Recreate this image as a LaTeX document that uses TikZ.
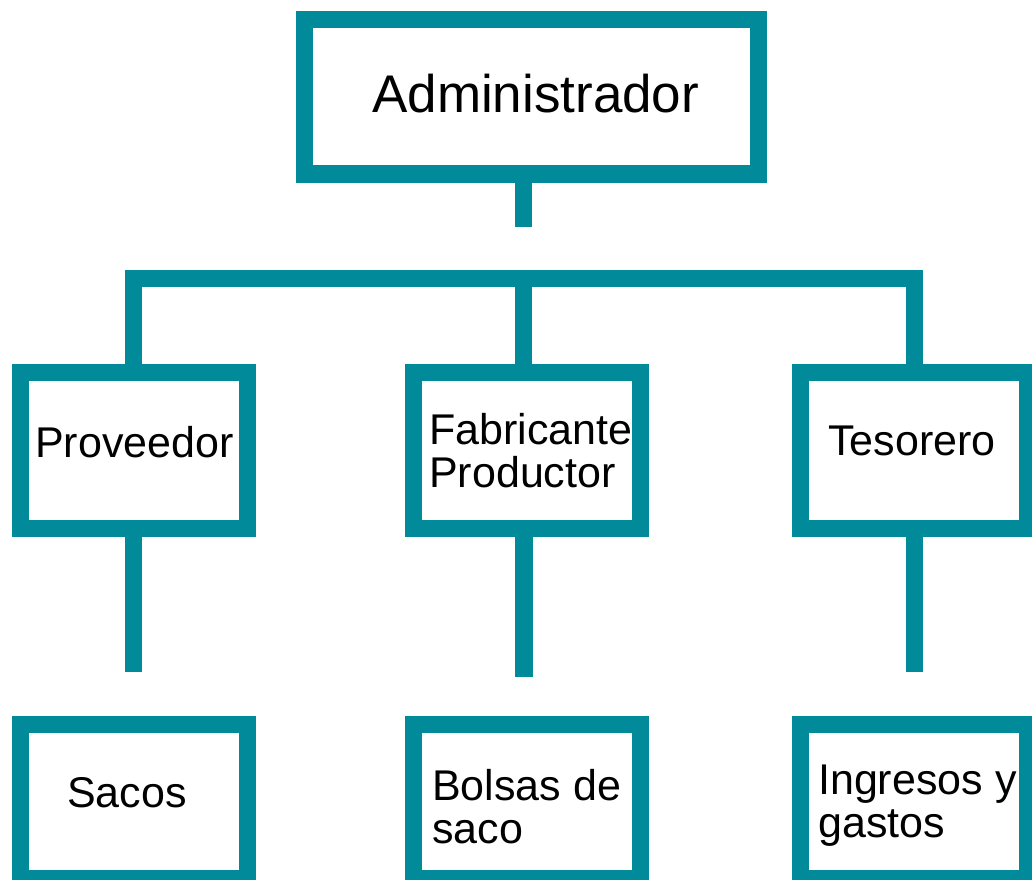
\documentclass[tikz,border=0pt]{standalone}
\usepackage{fontspec}
\setmainfont{Liberation Sans}
\usetikzlibrary{positioning}
\definecolor{tealline}{HTML}{008A9A}

\begin{document}
\begin{tikzpicture}[
    x=1pt, y=-1pt, % picture measured in pixels, top to bottom
    box/.style={draw=tealline, line width=17.5pt, minimum width=227pt, minimum height=156pt, inner sep=0pt},
    link/.style={draw=tealline, line width=17.5pt},
    label_style/.style={anchor=base west, inner sep=0pt, align=left, font=\fontsize{43}{43}\selectfont}
]
    \useasboundingbox (0,0) rectangle (1032,879);
    \clip (0,0) rectangle (1032,879);

    % Column centres and row centres
    \def\colA{134}
    \def\colB{527}
    \def\colC{914}
    \def\rowB{450.5}
    \def\rowC{801.5}

    % Boxes
    \node[box, minimum width=454pt, minimum height=154.5pt] (admin) at (531.5,96.75) {};
    \node[box] (prov) at (\colA,\rowB) {};
    \node[box] (fab)  at (\colB,\rowB) {};
    \node[box] (tes)  at (\colC,\rowB) {};
    \node[box, minimum height=154pt] (sacos)    at (\colA,\rowC) {};
    \node[box, minimum height=154pt] (bolsas)   at (\colB,\rowC) {};
    \node[box, minimum height=154pt] (ingresos) at (\colC,\rowC) {};

    % Texts (base = baseline of the last line)
    \node[label_style, font=\fontsize{53}{54}\selectfont] (adminText) at (372,112) {Administrador};
    \node[label_style] (provText) at (35,457) {Proveedor};
    \node[label_style] (fabText)  at (429,487) {Fabricante\\Productor};
    \node[label_style] (tesText)  at (828,455) {Tesorero};
    \node[label_style] (sacosText)    at (67,807) {Sacos};
    \node[label_style] (bolsasText)   at (432,843) {Bolsas de\\saco};
    \node[label_style] (ingresosText) at (818,837) {Ingresos y\\gastos};

    % Free ends of the connectors
    \coordinate (stem) at (523.5,227);
    \coordinate (barL) at (133.5,278.5);
    \coordinate (barR) at (914.5,278.5);
    \coordinate (endA) at (133.5,671.5);
    \coordinate (endB) at (524,677);
    \coordinate (endC) at (914.5,672);

    % Connectors
    \draw[link] (admin.south -| stem) -- (stem);
    \draw[link] (prov.north -| barL) -- (barL) -- (barR) -- (tes.north -| barR);
    \draw[link] (fab.north -| stem) -- (stem |- barL);
    \draw[link] (prov.south -| endA) -- (endA);
    \draw[link] (fab.south -| endB) -- (endB);
    \draw[link] (tes.south -| endC) -- (endC);
\end{tikzpicture}
\end{document}
